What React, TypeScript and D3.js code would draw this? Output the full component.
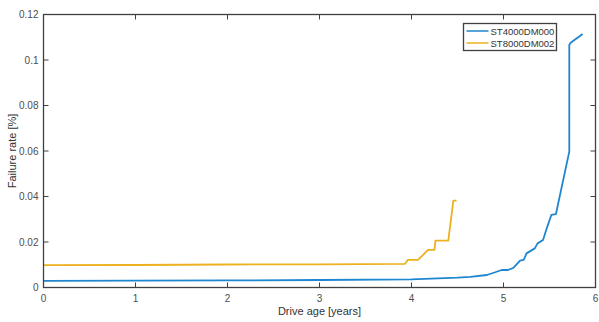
import React, { useEffect, useRef } from 'react'
import * as d3 from 'd3'

// ST4000DM000 (blue)
const st4000Age = [0, 1, 2, 3, 4, 4.5, 4.64, 4.82, 4.91, 4.98, 5.05, 5.11, 5.18, 5.22, 5.25, 5.34, 5.37, 5.43, 5.47, 5.52, 5.57, 5.715, 5.715, 5.73, 5.86]
const st4000Rate = [0.0029, 0.003, 0.0031, 0.0033, 0.0036, 0.0043, 0.0047, 0.0055, 0.0067, 0.0077, 0.0077, 0.0087, 0.0118, 0.0121, 0.015, 0.0172, 0.0194, 0.0209, 0.026, 0.0319, 0.0323, 0.0597, 0.1066, 0.1076, 0.1114]

// ST8000DM002 (orange)
const st8000Age = [0, 1, 2, 3, 3.93, 3.96, 4.07, 4.18, 4.25, 4.26, 4.4, 4.455, 4.49]
const st8000Rate = [0.0098, 0.0099, 0.0101, 0.0102, 0.0104, 0.0121, 0.0121, 0.0165, 0.0165, 0.0206, 0.0206, 0.0382, 0.0382]

const seriesNames = ['ST4000DM000', 'ST8000DM002']
const seriesColors = ['#1f86d0', '#EDB120']
const xTicks = [0, 1, 2, 3, 4, 5, 6]
const yTicks = [0, 0.02, 0.04, 0.06, 0.08, 0.1, 0.12]

const W = 599
const H = 322

const App = () => {
  const refSvg = useRef<SVGSVGElement>(null)

  useEffect(() => {
    const svg = d3.select(refSvg.current)
    svg.selectAll('*').remove()

    const left = 43.5
    const right = 595.5
    const top = 14.5
    const bottom = 287.5
    const axisColor = '#404040'
    const font = 'Liberation Sans, Arial, sans-serif'

    const x = d3.scaleLinear().domain([0, 6]).range([left, right])
    const y = d3.scaleLinear().domain([0, 0.12]).range([bottom, top])

    svg.append('rect').attr('width', W).attr('height', H).attr('fill', '#fff')

    const line = d3
      .line<[number, number]>()
      .x((d) => x(d[0]))
      .y((d) => y(d[1]))

    const series = [
      d3.zip(st4000Age, st4000Rate) as [number, number][],
      d3.zip(st8000Age, st8000Rate) as [number, number][],
    ]
    series.forEach((s, i) => {
      svg
        .append('path')
        .datum(s)
        .attr('fill', 'none')
        .attr('stroke', seriesColors[i])
        .attr('stroke-width', 1.8)
        .attr('stroke-linejoin', 'round')
        .attr('d', line)
    })

    // box
    svg
      .append('rect')
      .attr('x', left)
      .attr('y', top)
      .attr('width', right - left)
      .attr('height', bottom - top)
      .attr('fill', 'none')
      .attr('stroke', axisColor)
      .attr('stroke-width', 1.3)

    const tl = 5
    xTicks.forEach((t) => {
      svg.append('line').attr('x1', x(t)).attr('x2', x(t)).attr('y1', bottom).attr('y2', bottom - tl).attr('stroke', axisColor)
      svg.append('line').attr('x1', x(t)).attr('x2', x(t)).attr('y1', top).attr('y2', top + tl).attr('stroke', axisColor)
      svg
        .append('text')
        .attr('x', x(t))
        .attr('y', bottom + 14)
        .attr('text-anchor', 'middle')
        .attr('font-family', font)
        .attr('font-size', 10)
        .attr('fill', '#4d4d4d')
        .text(d3.format('')(t))
    })
    yTicks.forEach((t) => {
      svg.append('line').attr('x1', left).attr('x2', left + tl).attr('y1', y(t)).attr('y2', y(t)).attr('stroke', axisColor)
      svg.append('line').attr('x1', right).attr('x2', right - tl).attr('y1', y(t)).attr('y2', y(t)).attr('stroke', axisColor)
      svg
        .append('text')
        .attr('x', left - 5)
        .attr('y', y(t) + 3.5)
        .attr('text-anchor', 'end')
        .attr('font-family', font)
        .attr('font-size', 10)
        .attr('fill', '#4d4d4d')
        .text(String(t))
    })

    svg
      .append('text')
      .attr('x', (left + right) / 2)
      .attr('y', 315)
      .attr('text-anchor', 'middle')
      .attr('font-family', font)
      .attr('font-size', 11)
      .attr('fill', '#333')
      .text('Drive age [years]')

    svg
      .append('text')
      .attr('transform', `translate(16,${(top + bottom) / 2}) rotate(-90)`)
      .attr('text-anchor', 'middle')
      .attr('font-family', font)
      .attr('font-size', 11)
      .attr('fill', '#333')
      .text('Failure rate [%]')

    // legend
    const lg = svg.append('g').attr('transform', 'translate(463.5,23.5)')
    lg.append('rect').attr('width', 93).attr('height', 27).attr('fill', '#fff').attr('stroke', axisColor).attr('stroke-width', 1.3)
    seriesNames.forEach((n, i) => {
      const yy = 7.5 + i * 12
      lg.append('line').attr('x1', 3).attr('x2', 25).attr('y1', yy).attr('y2', yy).attr('stroke', seriesColors[i]).attr('stroke-width', 1.5)
      lg.append('text')
        .attr('x', 27)
        .attr('y', yy + 3.5)
        .attr('font-family', font)
        .attr('font-size', 9.5)
        .attr('fill', '#333')
        .text(n)
    })
  }, [])

  return <svg ref={refSvg} width={W} height={H} style={{ position: 'absolute', left: 0, top: 0 }} />
}

export default App
